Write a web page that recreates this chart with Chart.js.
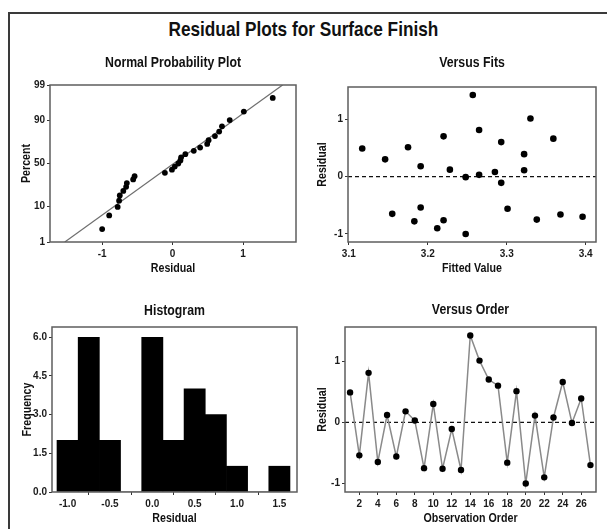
<!DOCTYPE html>
<html><head><meta charset="utf-8">
<script src="https://cdn.jsdelivr.net/npm/chart.js@4.4.1/dist/chart.umd.min.js"></script>
<style>
html,body{margin:0;padding:0;background:#fff;width:607px;height:529px;overflow:hidden;}
#wrap{position:relative;width:607px;height:529px;overflow:hidden;background:#fff;}
#frameTop{position:absolute;left:8px;top:12px;width:599px;height:2px;background:#3a3a3a;}
#frameLeft{position:absolute;left:8px;top:12px;width:2px;height:517px;background:#3a3a3a;}
#title{position:absolute;left:0;width:607px;top:16px;text-align:center;font:bold 21px "Liberation Sans",Arial,sans-serif;color:#111;line-height:26px;transform:scaleX(0.82);transform-origin:303px 0;}
canvas{position:absolute;left:0;top:0;}
</style></head><body>
<div id="wrap">
<div id="frameTop"></div>
<div id="frameLeft"></div>
<div id="title">Residual Plots for Surface Finish</div>
<canvas id="c1" width="607" height="529"></canvas>
<canvas id="c2" width="607" height="529"></canvas>
<canvas id="c3" width="607" height="529"></canvas>
<canvas id="c4" width="607" height="529"></canvas>
</div>
<script>
// ---------- data ----------
const observationOrder = [1,2,3,4,5,6,7,8,9,10,11,12,13,14,15,16,17,18,19,20,21,22,23,24,25,26,27];
const residuals = [0.49,-0.54,0.81,-0.65,0.12,-0.56,0.18,0.03,-0.75,0.30,-0.76,-0.11,-0.78,1.42,1.01,0.70,0.60,-0.66,0.51,-1.00,0.11,-0.90,0.08,0.66,-0.01,0.39,-0.70];
const fittedValues = [3.117,3.191,3.265,3.155,3.228,3.301,3.191,3.265,3.338,3.146,3.220,3.293,3.183,3.257,3.330,3.220,3.293,3.368,3.175,3.248,3.322,3.212,3.285,3.359,3.248,3.322,3.396];
const probPercents = [2.6,6.2,9.9,13.5,17.2,20.8,24.5,28.1,31.8,35.4,39.1,42.7,46.4,50.0,53.6,57.3,60.9,64.6,68.2,71.9,75.5,79.2,82.8,86.5,90.1,93.8,97.4];
const fitLineResidual = [-1.53, 1.56];
const fitLinePercent = [1, 99];
const percentTicks = [1, 10, 50, 90, 99];
const histBinCenters = [-1.0,-0.75,-0.5,-0.25,0.0,0.25,0.5,0.75,1.0,1.25,1.5];
const histCounts = [2,6,2,0,6,2,4,3,1,0,1];
const histXTicks = [-1.0,-0.5,0.0,0.5,1.0,1.5];
const histYTicks = [0,1.5,3.0,4.5,6.0];
const residualTicks = [-1,0,1];
const fitTicks = [3.1,3.2,3.3,3.4];
const orderTicks = [2,4,6,8,10,12,14,16,18,20,22,24,26];

// ---------- helpers ----------
const FONT = '"Liberation Sans",Arial,sans-serif';
const NARROW = 0.82;
function normInv(p){
  const a=[-3.969683028665376e+01,2.209460984245205e+02,-2.759285104469687e+02,1.383577518672690e+02,-3.066479806614716e+01,2.506628277459239e+00];
  const b=[-5.447609879822406e+01,1.615858368580409e+02,-1.556989798598866e+02,6.680131188771972e+01,-1.328068155288572e+01];
  const c=[-7.784894002430293e-03,-3.223964580411365e-01,-2.400758277161838e+00,-2.549732539343734e+00,4.374664141464968e+00,2.938163982698783e+00];
  const d=[7.784695709041462e-03,3.224671290700398e-01,2.445134137142996e+00,3.754408661907416e+00];
  const pl=0.02425, ph=1-pl; let q,r;
  if(p<pl){q=Math.sqrt(-2*Math.log(p));return (((((c[0]*q+c[1])*q+c[2])*q+c[3])*q+c[4])*q+c[5])/((((d[0]*q+d[1])*q+d[2])*q+d[3])*q+1);}
  if(p<=ph){q=p-0.5;r=q*q;return (((((a[0]*r+a[1])*r+a[2])*r+a[3])*r+a[4])*r+a[5])*q/(((((b[0]*r+b[1])*r+b[2])*r+b[3])*r+b[4])*r+1);}
  q=Math.sqrt(-2*Math.log(1-p));return -(((((c[0]*q+c[1])*q+c[2])*q+c[3])*q+c[4])*q+c[5])/((((d[0]*q+d[1])*q+d[2])*q+d[3])*q+1);
}

function narrowText(ctx, text, x, y, size, rot){
  ctx.save();
  ctx.translate(x, y);
  if(rot) ctx.rotate(rot);
  ctx.scale(NARROW, 1);
  ctx.font = 'bold '+size+'px '+FONT;
  ctx.fillStyle = '#111';
  ctx.textAlign = 'center'; ctx.textBaseline = 'middle';
  ctx.fillText(text, 0, 0);
  ctx.restore();
}

const boxPlugin = {
  id:'panelBox',
  afterDraw(chart, args, opts){
    const {ctx, chartArea:a} = chart;
    ctx.save();
    ctx.strokeStyle='#5e5e5e'; ctx.lineWidth=1.5;
    ctx.strokeRect(a.left, a.top, a.right-a.left, a.bottom-a.top);
    ctx.restore();
    const cx = (a.left+a.right)/2, cy = (a.top+a.bottom)/2;
    narrowText(ctx, opts.title, cx, opts.titleY, 15, 0);
    narrowText(ctx, opts.xTitle, cx, a.bottom + 26, 13, 0);
    narrowText(ctx, opts.yTitle, a.left - opts.yTitleOff, cy, 13, -Math.PI/2);
  }
};

const YW = 40, XH = 40;
function axis(min, max, tickVals, fmt, isY){
  return {
    type:'linear', min:min, max:max, offset:false,
    afterBuildTicks: s => { s.ticks = tickVals.map(v=>({value:v})); },
    afterFit: s => { if(isY) s.width = YW; else s.height = XH; },
    grid:{drawOnChartArea:false, drawTicks:true, tickLength:3, color:'#333', lineWidth:1},
    border:{display:false},
    ticks:{autoSkip:false, maxRotation:0, padding:isY?2:3, color:'#1a1a1a',
      font:{family:FONT, size:10, weight:'bold'},
      callback:(v,i)=>fmt(tickVals[i], i)},
    title:{display:false}
  };
}
function layoutFor(L,T,R,B){
  return {padding:{left:L-YW, top:T, right:607-R, bottom:529-B-XH}};
}
const common = {responsive:false, animation:false, devicePixelRatio:1, events:[]};
function plug(o){ return {legend:{display:false}, tooltip:{enabled:false}, panelBox:o}; }

// ---------- Panel 1: Normal probability plot ----------
const sortedRes = residuals.slice().sort((a,b)=>a-b);
new Chart(document.getElementById('c1'), {
  type:'scatter',
  data:{datasets:[
    {data: sortedRes.map((r,i)=>({x:r, y:normInv(probPercents[i]/100)})),
     pointRadius:2.9, pointBackgroundColor:'#000', pointBorderColor:'#000', borderWidth:0},
    {type:'line', data: fitLineResidual.map((r,i)=>({x:r, y:normInv(fitLinePercent[i]/100)})),
     borderColor:'#6e6e6e', borderWidth:1.2, pointRadius:0, fill:false}
  ]},
  options:Object.assign({}, common, {
    layout: layoutFor(50,85,296,242),
    scales:{
      x: axis(-1.74, 1.75, residualTicks, v=>String(v), false),
      y: axis(normInv(0.01), normInv(0.99), percentTicks.map(p=>normInv(p/100)), (v,i)=>String(percentTicks[i]), true)
    },
    plugins: plug({title:'Normal Probability Plot', titleY:63, xTitle:'Residual', yTitle:'Percent', yTitleOff:23.3})
  }),
  plugins:[boxPlugin]
});

// ---------- Panel 2: Versus fits ----------
new Chart(document.getElementById('c2'), {
  type:'scatter',
  data:{datasets:[
    {data: fittedValues.map((f,i)=>({x:f, y:residuals[i]})),
     pointRadius:3.3, pointBackgroundColor:'#000', pointBorderColor:'#000', borderWidth:0},
    {type:'line', data:[{x:3.099,y:0},{x:3.413,y:0}], borderColor:'#111', borderWidth:1.3,
     borderDash:[4,3], pointRadius:0, fill:false}
  ]},
  options:Object.assign({}, common, {
    layout: layoutFor(348,87,596,242),
    scales:{
      x: axis(3.099, 3.413, fitTicks, v=>v.toFixed(1), false),
      y: axis(-1.14, 1.56, residualTicks, v=>String(v), true)
    },
    plugins: plug({title:'Versus Fits', titleY:63, xTitle:'Fitted Value', yTitle:'Residual', yTitleOff:25.6})
  }),
  plugins:[boxPlugin]
});

// ---------- Panel 3: Histogram ----------
new Chart(document.getElementById('c3'), {
  type:'bar',
  data:{datasets:[
    {data: histBinCenters.map((c,i)=>({x:c, y:histCounts[i]})),
     backgroundColor:'#000', borderColor:'#000', borderWidth:0,
     barPercentage:1.0, categoryPercentage:1.0}
  ]},
  options:Object.assign({}, common, {
    layout: layoutFor(52,327,297,492),
    scales:{
      x: axis(-1.184, 1.708, histXTicks, v=>v.toFixed(1), false),
      y: axis(0, 6.4, histYTicks, v=>v.toFixed(1), true)
    },
    plugins: plug({title:'Histogram', titleY:311, xTitle:'Residual', yTitle:'Frequency', yTitleOff:25})
  }),
  plugins:[boxPlugin]
});

// ---------- Panel 4: Versus order ----------
new Chart(document.getElementById('c4'), {
  type:'scatter',
  data:{datasets:[
    {data: observationOrder.map((o,i)=>({x:o, y:residuals[i]})), showLine:true,
     borderColor:'#8a8a8a', borderWidth:1.5,
     pointRadius:3.2, pointBackgroundColor:'#000', pointBorderColor:'#000', pointBorderWidth:0},
    {type:'line', data:[{x:0.45,y:0},{x:27.6,y:0}], borderColor:'#111', borderWidth:1.3,
     borderDash:[4,3], pointRadius:0, fill:false}
  ]},
  options:Object.assign({}, common, {
    layout: layoutFor(345,327,596,492),
    scales:{
      x: axis(0.45, 27.6, orderTicks, v=>String(v), false),
      y: axis(-1.14, 1.56, residualTicks, v=>String(v), true)
    },
    plugins: plug({title:'Versus Order', titleY:310, xTitle:'Observation Order', yTitle:'Residual', yTitleOff:22.3})
  }),
  plugins:[boxPlugin]
});
</script>
</body></html>
